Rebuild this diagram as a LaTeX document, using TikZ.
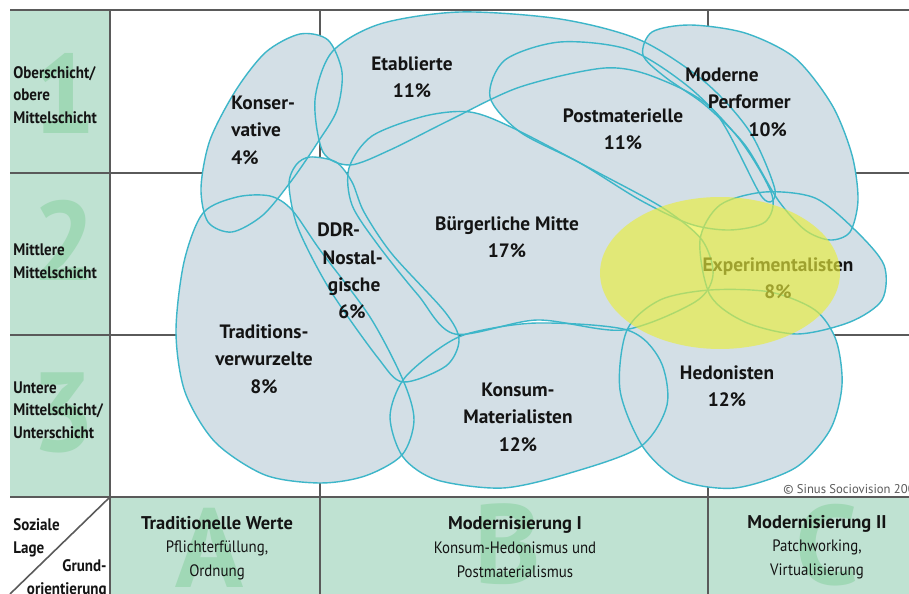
\documentclass[tikz,border=0pt]{standalone}
\usepackage{fontspec}
\setmainfont{PT Sans}
\newfontfamily\condfont{PT Sans}[FakeStretch=0.9]
\usepackage{tikz}
\definecolor{cCell}{HTML}{BFE2D2}
\definecolor{cBig}{HTML}{A0D8B6}
\definecolor{cBlob}{HTML}{D3DFE6}
\definecolor{cEdge}{HTML}{3DB6C9}
\definecolor{cYel}{HTML}{E9ED3C}
\definecolor{cGrid}{HTML}{5A5A5A}
\definecolor{cInk}{HTML}{141414}
\newcommand{\headfont}{\normalfont\fontsize{10.5}{13.5}\selectfont\bfseries}
\tikzset{
  cell/.style={fill=cCell},
  bigmark/.style={font=\fontsize{64}{64}\selectfont\bfseries, text=cBig, inner sep=0pt},
  gridline/.style={draw=cGrid, line width=0.9pt},
  blobfill/.style={fill=cBlob},
  blobedge/.style={draw=cEdge, line width=0.8pt},
  milieu/.style={font=\fontsize{11}{15.6}\selectfont\bfseries, text=cInk, align=center, inner sep=0pt},
  layer/.style={font=\condfont\fontsize{9.5}{12.8}\selectfont\bfseries, text=cInk, align=left, inner sep=0pt},
  orient/.style={font=\condfont\fontsize{9.4}{13.5}\selectfont, text=cInk, align=center, inner sep=0pt},
}
\newcommand{\pathKons}{plot[smooth cycle] coordinates {(300,34) (328,40) (342,72) (337,110) (318,142) (292,180) (263,215) (232,232) (208,222) (201,188) (210,140) (236,90) (266,52)}}
\newcommand{\pathEtab}{plot[smooth cycle] coordinates {(315,100) (332,52) (380,24) (460,12) (560,19) (640,40) (705,82) (750,132) (775,190) (762,197) (715,112) (657,78) (605,68) (520,87) (450,120) (390,150) (350,165) (323,152)}}
\newcommand{\pathPost}{plot[smooth cycle] coordinates {(490,97) (505,60) (560,42) (630,50) (690,88) (740,140) (772,195) (765,222) (730,230) (690,224) (640,200) (580,163) (520,132)}}
\newcommand{\pathPerf}{plot[smooth cycle] coordinates {(643,55) (652,32) (690,25) (745,33) (795,58) (832,105) (852,155) (858,200) (850,232) (830,240) (805,230) (778,200) (745,145) (705,105) (665,77)}}
\newcommand{\pathBuerg}{plot[smooth cycle] coordinates {(349,168) (372,136) (425,116) (470,112) (513,128) (597,172) (663,208) (702,240) (713,275) (695,302) (623,330) (537,320) (455,334) (418,295) (378,245) (352,205)}}
\newcommand{\pathDdr}{plot[smooth cycle] coordinates {(310,157) (336,162) (352,182) (364,212) (392,254) (445,312) (459,340) (446,366) (403,382) (378,358) (330,290) (298,228) (289,185) (296,165)}}
\newcommand{\pathTrad}{plot[smooth cycle] coordinates {(203,213) (237,197) (270,196) (292,210) (320,250) (370,317) (403,380) (414,420) (402,455) (365,476) (320,483) (265,475) (215,442) (185,392) (176,332) (184,262)}}
\newcommand{\pathKonsum}{plot[smooth cycle] coordinates {(403,380) (437,350) (470,333) (537,323) (627,330) (660,360) (667,405) (640,447) (570,473) (503,488) (437,480) (403,457) (390,417)}}
\newcommand{\pathHedo}{plot[smooth cycle] coordinates {(627,330) (660,300) (710,290) (770,292) (815,310) (836,340) (842,385) (830,430) (795,468) (735,488) (680,480) (643,447) (620,390)}}
\newcommand{\pathExpe}{plot[smooth cycle] coordinates {(700,240) (720,205) (765,192) (815,198) (855,230) (884,265) (882,300) (850,322) (797,334) (745,322) (710,295)}}

\begin{document}
\begin{tikzpicture}[x=0.02cm, y=-0.02cm]
\useasboundingbox (0,0) rectangle (909,594);
\fill[white] (0,0) rectangle (909,594);
\fill[cell] (10,10) rectangle (110,497);
\fill[cell] (110,497) rectangle (909,600);

\node[bigmark] (big1) at (64,93) {1};
\node[bigmark] (big2) at (64,240) {2};
\node[bigmark] (big3) at (63,413) {3};
\node[bigmark] (bigA) at (210,548) {A};
\node[bigmark] (bigB) at (508,544) {B};
\node[bigmark] (bigC) at (827,545) {C};

\foreach \y in {10,173,335,497}
  \draw[gridline] (10,\y) -- (909,\y);
\foreach \x in {110,320,708}
  \draw[gridline] (\x,10) -- (\x,594);
\draw[gridline] (110,497) -- (10,594);

\foreach \b in {\pathKons,\pathEtab,\pathPost,\pathPerf,\pathBuerg,\pathDdr,\pathTrad,\pathKonsum,\pathHedo,\pathExpe}
  \fill[blobfill] \b;
\foreach \b in {\pathKons,\pathEtab,\pathPost,\pathPerf,\pathBuerg,\pathDdr,\pathTrad,\pathKonsum,\pathHedo,\pathExpe}
  \draw[blobedge] \b;

\node[milieu, anchor=west, align=left] (kons) at (231,130) {Konser-\\vative\\4\%};
\node[milieu] (etab) at (412,77) {Etablierte\\11\%};
\node[milieu] (post) at (623,129) {Postmaterielle\\11\%};
\node[milieu, anchor=west, align=left] (perf) at (685,102) {Moderne\\\hspace*{13pt}Performer\\\hspace*{36pt}10\%};
\node[milieu] (buerg) at (507,237) {Bürgerliche Mitte\\17\%};
\node[milieu, anchor=west, align=left] (ddr) at (317,271) {DDR-\\\hspace*{3pt}Nostal-\\\hspace*{6pt}gische\\\hspace*{12pt}6\%};
\node[milieu] (trad) at (264,359) {Traditions-\\verwurzelte\\8\%};
\node[milieu] (konsum) at (518,417) {Konsum-\\Materialisten\\12\%};
\node[milieu] (hedo) at (727,386) {Hedonisten\\12\%};
\node[milieu] (expe) at (778,278) {Experimentalisten\\8\%};

\node[layer, anchor=west] (row1) at (13,95) {Oberschicht/\\obere\\Mittelschicht};
\node[layer, anchor=west] (row2) at (13,261) {Mittlere\\Mittelschicht};
\node[layer, anchor=west] (row3) at (13,410) {Untere\\Mittelschicht/\\Unterschicht};

\node[layer, anchor=west] (soz) at (13,538) {Soziale\\Lage};
\node[layer, anchor=east, align=right] (grund) at (107,579) {Grund-\\orientierung};

\node[orient] (colA) at (217,548) {{\headfont Traditionelle Werte}\\Pflichterfüllung,\\Ordnung};
\node[orient] (colB) at (515,547) {{\headfont Modernisierung I}\\Konsum-Hedonismus und\\Postmaterialismus};
\node[orient] (colC) at (817,547) {{\headfont Modernisierung II}\\Patchworking,\\Virtualisierung};

\node[font=\fontsize{7.2}{8}\selectfont, text=cGrid, anchor=west, inner sep=0pt] (copy) at (783,489) {© Sinus Sociovision 2003};

\fill[cYel, opacity=0.65] (720,273) ellipse [x radius=2.4cm, y radius=1.52cm];
\end{tikzpicture}
\end{document}
